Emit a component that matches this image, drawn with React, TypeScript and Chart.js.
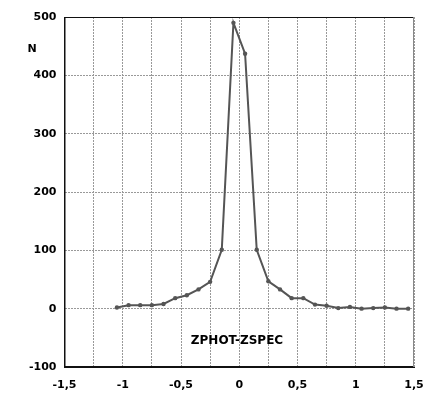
import React, { useEffect, useRef } from "react";
import { Chart, registerables } from "chart.js";

Chart.register(...registerables);

const binCenters = [-1.05, -0.95, -0.85, -0.75, -0.65, -0.55, -0.45, -0.35, -0.25, -0.15, -0.05, 0.05, 0.15, 0.25, 0.35, 0.45, 0.55, 0.65, 0.75, 0.85, 0.95, 1.05, 1.15, 1.25, 1.35, 1.45];
const counts = [2, 6, 6, 6, 8, 18, 23, 33, 46, 101, 490, 437, 101, 47, 33, 18, 18, 7, 5, 1, 3, 0, 1, 2, 0, 0];
const xTickValues = [-1.5, -1, -0.5, 0, 0.5, 1, 1.5];
const xTickLabels = ["-1,5", "-1", "-0,5", "0", "0,5", "1", "1,5"];
const yAxisTitle = "N";
const xAxisTitle = "ZPHOT-ZSPEC";

const textPlugin = {
  id: "texts",
  afterDraw(chart: any) {
    const ctx = chart.ctx;
    const area = chart.chartArea;
    ctx.save();
    ctx.fillStyle = "#000";
    ctx.font = "bold 11px 'DejaVu Sans'";
    ctx.textAlign = "center";
    ctx.textBaseline = "middle";
    ctx.fillText(yAxisTitle, 32, 49);
    ctx.font = "bold 12px 'DejaVu Sans'";
    ctx.fillText(xAxisTitle, 237, 341);
    ctx.setLineDash([]);
    ctx.strokeStyle = "#111";
    ctx.lineWidth = 1;
    ctx.beginPath();
    ctx.moveTo(area.right, area.bottom - 0.5);
    ctx.lineTo(area.left + 0.5, area.bottom - 0.5);
    ctx.lineTo(area.left + 0.5, area.top + 0.5);
    ctx.lineTo(area.right, area.top + 0.5);
    ctx.stroke();
    ctx.strokeStyle = "#888";
    ctx.beginPath();
    ctx.moveTo(area.right - 0.5, area.top);
    ctx.lineTo(area.right - 0.5, area.bottom);
    ctx.stroke();
    ctx.restore();
  },
};

export default function App() {
  const ref = useRef<HTMLCanvasElement>(null);
  useEffect(() => {
    if (!ref.current) return;
    const chart = new Chart(ref.current, {
      type: "line",
      data: {
        datasets: [
          {
            data: binCenters.map((x, i) => ({ x, y: counts[i] })),
            borderColor: "#555",
            backgroundColor: "#555",
            borderWidth: 2,
            pointRadius: 2.2,
            pointBorderWidth: 0,
            tension: 0,
          },
        ],
      },
      options: {
        animation: false,
        responsive: false,
        layout: { padding: { left: 0, right: 22, top: 17, bottom: 0 } },
        plugins: { legend: { display: false }, tooltip: { enabled: false } },
        scales: {
          x: {
            type: "linear",
            min: -1.5,
            max: 1.5,
            afterFit(scale: any) {
              scale.height = 32;
            },
            afterBuildTicks(scale: any) {
              const t = [];
              for (let i = 0; i <= 12; i++) t.push({ value: -1.5 + i * 0.25 });
              scale.ticks = t;
            },
            border: { display: true, color: "#111", width: 1, dash: [2, 1] },
            grid: {
              color: "#999",
              drawTicks: false,
            },
            ticks: {
              autoSkip: false,
              maxRotation: 0,
              padding: 12,
              color: "#000",
              font: { family: "'DejaVu Sans'", size: 11, weight: "bold" },
              callback(value: any) {
                const idx = xTickValues.findIndex((v) => Math.abs(v - Number(value)) < 1e-6);
                return idx >= 0 ? xTickLabels[idx] : "";
              },
            },
          },
          y: {
            type: "linear",
            min: -100,
            max: 500,
            afterFit(scale: any) {
              scale.width = 64.5;
            },
            border: { display: true, color: "#111", width: 1, dash: [2, 1] },
            grid: {
              color: "#999",
              drawTicks: false,
            },
            ticks: {
              stepSize: 100,
              padding: 8,
              color: "#000",
              font: { family: "'DejaVu Sans'", size: 11, weight: "bold" },
            },
          },
        },
      },
      plugins: [textPlugin],
    });
    return () => chart.destroy();
  }, []);
  return (
    <div style={{ position: "fixed", left: 0, top: 0, width: 436, height: 399, background: "#fff" }}>
      <canvas ref={ref} width={436} height={399} style={{ width: 436, height: 399 }} />
    </div>
  );
}
